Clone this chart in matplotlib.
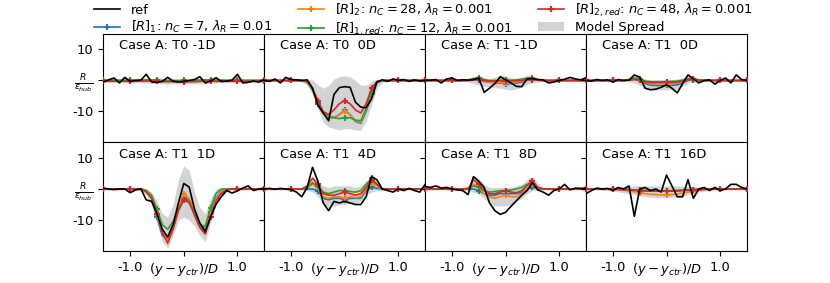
"""
Wake profiles R/eps_hub vs (y - y_ctr)/D for case A: reference data,
four reduced models and the spread of the model ensemble.
"""

import matplotlib
matplotlib.use("Agg")
import matplotlib.pyplot as plt
from matplotlib.lines import Line2D
from matplotlib.patches import Patch
import numpy as np

# ---- data -----------------------------------------------------------------
x = [-1.5, -1.4, -1.3, -1.2, -1.1, -1.0, -0.9, -0.8, -0.7, -0.6, -0.5,
     -0.4, -0.3, -0.2, -0.1, 0.0, 0.1, 0.2, 0.3, 0.4, 0.5,
     0.6, 0.7, 0.8, 0.9, 1.0, 1.1, 1.2, 1.3, 1.4, 1.5]

titles = ["Case A: T0 -1D", "Case A: T0  0D", "Case A: T1 -1D", "Case A: T1  0D",
          "Case A: T1  1D", "Case A: T1  4D", "Case A: T1  8D", "Case A: T1  16D"]

# T0 -1D
ref_0 = [-0.5, 0.2, 0.8, -0.8, 1.0, -0.3, 0.0, 0.1, 2.0, -0.5, -0.6, -0.3, 1.0, -0.2, -0.5, -0.3,
         0.0, 0.3, 1.2, -0.8, -0.2, 0.9, -0.3, -0.2, 0.1, 2.0, -0.8, -0.6, -0.2, -0.5, 0.3]
r1_0 = [0.0, 0.0, 0.0, 0.0, 0.0, 0.0, 0.0, 0.0, 0.1, 0.1, 0.0, -0.1, -0.1, -0.1, -0.1, -0.1,
        -0.1, -0.1, 0.0, 0.0, 0.1, 0.0, 0.0, 0.0, 0.0, 0.0, 0.0, 0.0, 0.0, 0.0, 0.0]
r2_0 = [0.0, 0.0, 0.0, 0.0, 0.0, 0.0, 0.0, 0.1, 0.2, 0.1, 0.0, -0.2, -0.2, -0.2, -0.2, -0.2,
        -0.2, -0.1, 0.0, 0.1, 0.1, 0.0, 0.0, 0.0, 0.0, 0.0, 0.0, 0.0, 0.0, 0.0, 0.0]
r1r_0 = [0.0, 0.0, 0.0, 0.0, 0.0, 0.0, 0.1, 0.1, 0.2, 0.2, 0.1, 0.0, 0.0, 0.0, 0.0, 0.0,
         0.0, 0.0, 0.1, 0.2, 0.2, 0.1, 0.0, 0.0, 0.0, 0.0, 0.0, 0.0, 0.0, 0.0, 0.0]
r2r_0 = [-0.3, -0.3, -0.3, -0.3, -0.3, -0.3, -0.3, -0.2, -0.2, -0.2, -0.3, -0.4, -0.4, -0.4, -0.4, -0.4,
         -0.4, -0.4, -0.3, -0.2, -0.2, -0.3, -0.3, -0.3, -0.3, -0.3, -0.3, -0.3, -0.3, -0.3, -0.3]
lo_0 = [-0.4, -0.4, -0.4, -0.4, -0.5, -0.5, -0.6, -0.7, -0.8, -0.9, -1.0, -1.1, -1.1, -1.1, -1.1, -1.1,
        -1.1, -1.1, -1.0, -0.9, -0.8, -0.7, -0.6, -0.5, -0.5, -0.4, -0.4, -0.4, -0.4, -0.4, -0.4]
hi_0 = [0.2, 0.2, 0.2, 0.2, 0.3, 0.3, 0.4, 0.5, 0.6, 0.6, 0.5, 0.4, 0.4, 0.4, 0.4, 0.4,
        0.4, 0.4, 0.5, 0.6, 0.6, 0.5, 0.4, 0.3, 0.3, 0.2, 0.2, 0.2, 0.2, 0.2, 0.2]

# T0 0D
ref_1 = [0.0, -0.3, 0.5, -0.8, 1.0, 0.3, 0.2, 0.0, 0.2, -2.5, -8.0, -10.5, -13.0, -4.5, -2.3, -2.0,
         -2.2, -7.0, -8.6, -8.8, -6.0, -0.5, 0.2, -0.3, 0.5, 0.0, 0.3, -0.3, 0.2, -0.2, 0.0]
r1_1 = [0.0, 0.0, 0.0, 0.0, 0.0, 0.0, 0.0, 0.0, -0.5, -3.0, -7.5, -10.5, -11.5, -12.0, -11.0, -9.5,
        -11.0, -13.2, -13.8, -10.0, -4.5, -0.8, 0.0, 0.0, 0.0, 0.0, 0.0, 0.0, 0.0, 0.0, 0.0]
r2_1 = [0.0, 0.0, 0.0, 0.0, 0.0, 0.0, 0.0, 0.0, -0.5, -3.0, -7.0, -10.5, -11.5, -12.0, -11.0, -10.0,
        -11.0, -13.0, -13.5, -9.5, -4.0, -0.5, 0.0, 0.0, 0.0, 0.0, 0.0, 0.0, 0.0, 0.0, 0.0]
r1r_1 = [0.0, 0.0, 0.0, 0.0, 0.0, 0.0, 0.0, 0.0, -0.5, -3.0, -7.0, -10.5, -12.0, -12.0, -12.3, -12.0,
         -12.0, -12.8, -13.0, -9.0, -4.0, -0.5, 0.0, 0.0, 0.0, 0.0, 0.0, 0.0, 0.0, 0.0, 0.0]
r2r_1 = [0.0, 0.0, 0.0, 0.0, 0.0, 0.0, 0.0, 0.0, -0.3, -2.5, -6.5, -10.0, -11.0, -9.5, -7.5, -6.5,
         -7.5, -9.5, -10.5, -7.5, -2.5, -0.3, 0.0, 0.0, 0.0, 0.0, 0.0, 0.0, 0.0, 0.0, 0.0]
lo_1 = [-0.3, -0.3, -0.3, -0.3, -0.3, -0.3, -0.3, -0.5, -1.5, -4.5, -9.0, -13.5, -15.0, -15.5, -16.0, -15.5,
        -15.5, -16.0, -16.0, -13.0, -8.0, -2.5, -0.6, -0.3, -0.3, -0.3, -0.3, -0.3, -0.3, -0.3, -0.3]
hi_1 = [0.3, 0.3, 0.3, 0.3, 0.3, 0.3, 0.3, 0.4, 0.4, 0.2, -1.5, -2.5, -1.5, 0.5, 1.2, 1.5,
        1.2, 0.0, -1.5, -1.5, -0.3, 0.4, 0.4, 0.3, 0.3, 0.3, 0.3, 0.3, 0.3, 0.3, 0.3]

# T1 -1D
ref_2 = [0.0, 0.1, 0.3, -0.8, 0.5, 0.8, 0.0, 0.2, 0.1, 0.3, 0.8, -3.8, -2.5, -1.0, 1.2, 0.2,
         -0.8, -1.9, -2.0, 0.5, 0.6, 0.3, 0.2, -0.8, -0.5, 0.0, 0.4, 1.0, 0.5, 0.2, 0.9]
r1_2 = [0.0, 0.0, 0.0, 0.0, 0.0, 0.0, 0.0, 0.0, 0.0, 0.1, 0.3, -0.3, -0.6, -0.8, -0.8, -1.0,
        -1.0, -0.8, -0.6, 0.0, 0.2, 0.1, 0.0, 0.0, 0.0, 0.0, 0.0, 0.0, 0.0, 0.0, 0.0]
r2_2 = [0.0, 0.0, 0.0, 0.0, 0.0, 0.0, 0.0, 0.0, 0.1, 0.3, 0.5, -0.1, -0.5, -0.6, -0.6, -0.8,
        -0.8, -0.5, -0.3, 0.2, 0.4, 0.1, 0.0, 0.0, 0.0, 0.0, 0.0, 0.0, 0.0, 0.0, 0.0]
r1r_2 = [0.0, 0.0, 0.0, 0.0, 0.0, 0.0, 0.0, 0.0, 0.2, 0.6, 0.9, 0.3, 0.0, 0.0, 0.1, 0.1,
         0.1, 0.2, 0.4, 0.8, 0.9, 0.3, 0.0, 0.0, 0.0, 0.0, 0.0, 0.0, 0.0, 0.0, 0.0]
r2r_2 = [0.0, 0.0, 0.0, 0.0, 0.0, 0.0, 0.0, 0.0, 0.0, 0.2, 0.4, 0.0, -0.2, -0.2, -0.1, -0.2,
         -0.2, -0.1, 0.0, 0.3, 0.4, 0.1, 0.0, 0.0, 0.0, 0.0, 0.0, 0.0, 0.0, 0.0, 0.0]
lo_2 = [-0.3, -0.3, -0.3, -0.3, -0.3, -0.3, -0.3, -0.3, -0.5, -1.0, -1.5, -2.0, -2.0, -2.3, -2.5, -2.8,
        -3.0, -2.8, -2.2, -1.2, -0.8, -0.5, -0.3, -0.3, -0.3, -0.3, -0.3, -0.3, -0.3, -0.3, -0.3]
hi_2 = [0.3, 0.3, 0.3, 0.3, 0.3, 0.3, 0.3, 0.3, 0.6, 1.3, 1.6, 0.8, 0.5, 1.0, 1.8, 1.5,
        0.8, 0.6, 1.0, 1.6, 1.5, 0.6, 0.3, 0.3, 0.3, 0.3, 0.3, 0.3, 0.3, 0.3, 0.3]

# T1 0D
ref_3 = [0.0, -0.2, 0.3, 0.0, 0.2, -0.5, 0.3, 0.0, 0.1, 1.8, 1.0, -2.5, -3.0, -2.8, -2.2, -1.4,
         -2.5, -4.0, -1.0, 1.8, 0.5, -0.8, 0.0, 0.2, -1.2, 0.0, 0.8, -0.8, 1.8, 0.3, 0.0]
r1_3 = [0.0, 0.0, 0.0, 0.0, 0.0, 0.0, 0.0, 0.0, 0.1, 0.3, 0.0, -1.0, -1.5, -1.6, -1.6, -1.6,
        -1.6, -1.4, -0.8, 0.0, 0.2, 0.0, 0.0, 0.0, 0.0, 0.0, 0.0, 0.0, 0.0, 0.0, 0.0]
r2_3 = [0.0, 0.0, 0.0, 0.0, 0.0, 0.0, 0.0, 0.0, 0.2, 0.5, 0.2, -0.6, -1.0, -1.0, -1.0, -1.0,
        -1.0, -0.8, -0.4, 0.3, 0.4, 0.1, 0.0, 0.0, 0.0, 0.0, 0.0, 0.0, 0.0, 0.0, 0.0]
r1r_3 = [0.0, 0.0, 0.0, 0.0, 0.0, 0.0, 0.0, 0.0, 0.3, 0.8, 0.5, -0.2, -0.4, -0.4, -0.4, -0.4,
         -0.3, -0.2, 0.1, 0.6, 0.6, 0.2, 0.0, 0.0, 0.0, 0.0, 0.0, 0.0, 0.0, 0.0, 0.0]
r2r_3 = [0.0, 0.0, 0.0, 0.0, 0.0, 0.0, 0.0, 0.0, 0.1, 0.4, 0.2, -0.4, -0.6, -0.6, -0.6, -0.6,
         -0.6, -0.5, -0.2, 0.3, 0.4, 0.1, 0.0, 0.0, 0.0, 0.0, 0.0, 0.0, 0.0, 0.0, 0.0]
lo_3 = [-0.3, -0.3, -0.3, -0.3, -0.3, -0.3, -0.3, -0.3, -0.5, -0.8, -1.5, -2.5, -3.0, -3.0, -3.0, -3.0,
        -3.0, -2.8, -2.0, -0.8, -0.5, -0.4, -0.3, -0.3, -0.3, -0.3, -0.3, -0.3, -0.3, -0.3, -0.3]
hi_3 = [0.3, 0.3, 0.3, 0.3, 0.3, 0.3, 0.3, 0.3, 0.8, 1.8, 1.2, 0.5, 0.2, 0.2, 0.3, 0.3,
        0.3, 0.5, 0.8, 1.6, 1.2, 0.5, 0.3, 0.3, 0.3, 0.3, 0.3, 0.3, 0.3, 0.3, 0.3]

# T1 1D
ref_4 = [0.3, 0.0, -0.2, 0.0, 0.0, -1.2, -0.3, 0.0, -3.5, -4.0, -8.0, -13.0, -15.5, -11.5, -4.5, 1.8,
         0.6, -6.5, -11.0, -13.8, -9.0, -5.0, -2.5, -0.5, -1.3, -0.6, 0.3, 1.0, -0.5, 0.0, 0.3]
r1_4 = [0.0, 0.0, 0.0, 0.0, 0.0, 0.0, 0.0, 0.0, -0.5, -3.0, -9.0, -15.0, -16.0, -12.5, -6.5, -3.0,
        -3.5, -7.5, -11.5, -13.0, -7.5, -3.0, -0.8, 0.0, 0.0, 0.0, 0.0, 0.0, 0.0, 0.0, 0.0]
r2_4 = [0.0, 0.0, 0.0, 0.0, 0.0, 0.0, 0.0, 0.0, -0.5, -3.0, -8.5, -14.0, -16.5, -12.5, -6.0, -1.5,
        -3.0, -7.5, -12.0, -13.5, -8.0, -3.5, -1.0, 0.0, 0.0, 0.0, 0.0, 0.0, 0.0, 0.0, 0.0]
r1r_4 = [0.0, 0.0, 0.0, 0.0, 0.0, 0.0, 0.0, 0.0, -0.5, -2.0, -6.5, -11.5, -13.0, -10.5, -6.5, -3.5,
         -4.5, -8.0, -11.5, -12.0, -6.0, -1.5, 0.0, 0.0, 0.0, 0.0, 0.0, 0.0, 0.0, 0.0, 0.0]
r2r_4 = [0.0, 0.0, 0.0, 0.0, 0.0, 0.0, 0.0, 0.0, -1.0, -3.0, -8.0, -14.0, -17.5, -13.0, -7.0, -3.5,
         -4.0, -8.5, -12.5, -14.5, -9.0, -4.0, -1.5, -0.3, 0.0, 0.0, 0.0, 0.0, 0.0, 0.0, 0.0]
lo_4 = [-0.3, -0.3, -0.3, -0.3, -0.3, -0.3, -0.3, -0.5, -2.0, -5.0, -11.0, -17.0, -19.0, -15.0, -10.0, -9.0,
        -10.0, -12.0, -15.0, -17.0, -11.0, -5.0, -2.0, -0.5, -0.3, -0.3, -0.3, -0.3, -0.3, -0.3, -0.3]
hi_4 = [0.3, 0.3, 0.3, 0.3, 0.3, 0.3, 0.3, 0.3, 0.0, -1.0, -4.0, -8.0, -9.0, -5.0, 3.0, 7.5,
        6.0, -1.0, -6.0, -8.0, -3.0, 0.0, 0.5, 0.3, 0.3, 0.3, 0.3, 0.3, 0.3, 0.3, 0.3]

# T1 4D
ref_5 = [0.0, 0.2, -0.1, 0.2, 0.0, -0.2, -1.0, -2.5, 0.5, 7.0, 2.5, -4.5, -7.0, -4.0, -4.5, -4.0,
         -4.5, -5.0, -5.0, -2.5, 4.0, 3.0, 0.0, -0.5, -1.0, 0.0, -0.5, 0.2, -0.5, -1.0, 1.5]
r1_5 = [0.0, 0.0, 0.0, 0.0, 0.0, 0.0, 0.0, 0.0, 0.0, 0.0, -0.5, -3.0, -3.5, -3.0, -3.0, -3.5,
        -3.0, -3.0, -3.0, -0.5, 0.5, 0.2, 0.0, 0.0, 0.0, 0.0, 0.0, 0.0, 0.0, 0.0, 0.0]
r2_5 = [0.0, 0.0, 0.0, 0.0, 0.0, 0.0, 0.0, 0.0, 0.5, 1.5, 0.5, -2.5, -3.0, -2.5, -2.5, -3.0,
        -2.5, -2.8, -2.5, 0.0, 2.0, 1.0, 0.0, 0.0, 0.0, 0.0, 0.0, 0.0, 0.0, 0.0, 0.0]
r1r_5 = [0.0, 0.0, 0.0, 0.0, 0.0, 0.0, 0.0, 0.0, 0.5, 2.0, 1.0, -1.0, -1.5, -1.0, -0.5, -0.5,
         -0.8, -1.0, -0.5, 1.5, 3.5, 1.5, 0.0, 0.0, 0.0, 0.0, 0.0, 0.0, 0.0, 0.0, 0.0]
r2r_5 = [0.0, 0.0, 0.0, 0.0, 0.0, 0.0, 0.0, 0.0, 1.0, 3.5, 1.5, -1.5, -2.0, -2.0, -1.5, -1.0,
         -1.5, -2.0, -1.5, 0.5, 3.0, 1.5, 0.0, 0.0, 0.0, 0.0, 0.0, 0.0, 0.0, 0.0, 0.0]
lo_5 = [-0.3, -0.3, -0.3, -0.3, -0.3, -0.3, -0.3, -0.3, -0.5, -1.0, -2.5, -5.0, -6.0, -5.5, -5.0, -5.0,
        -4.5, -4.5, -4.0, -2.0, -1.0, -0.5, -0.5, -0.3, -0.3, -0.3, -0.3, -0.3, -0.3, -0.3, -0.3]
hi_5 = [0.3, 0.3, 0.3, 0.3, 0.3, 0.3, 0.3, 0.3, 1.0, 4.0, 2.5, 1.0, 0.5, 1.0, 1.0, 1.0,
        1.0, 0.5, 1.0, 2.5, 4.0, 2.5, 0.5, 0.3, 0.3, 0.3, 0.3, 0.3, 0.3, 0.3, 0.3]

# T1 8D
ref_6 = [0.8, 0.5, 1.0, 0.3, 0.5, 0.0, -0.3, -0.5, -1.8, 4.0, 2.5, 0.5, -4.5, -7.0, -8.2, -7.5,
         -5.6, -3.8, -2.0, -0.5, 2.0, -0.3, -1.0, -2.0, -0.5, 0.0, 1.5, -0.3, 0.3, 0.2, 0.3]
r1_6 = [0.0, 0.0, 0.0, 0.0, 0.0, 0.0, 0.0, 0.0, 0.0, 0.0, -0.5, -1.5, -2.0, -2.0, -1.5, -1.5,
        -1.5, -1.5, -1.0, 0.0, 0.5, 0.2, 0.0, 0.0, 0.0, 0.0, 0.0, 0.0, 0.0, 0.0, 0.0]
r2_6 = [0.0, 0.0, 0.0, 0.0, 0.0, 0.0, 0.0, 0.0, 0.3, 1.5, 0.5, -1.5, -2.5, -3.0, -2.5, -2.0,
        -2.5, -2.5, -1.5, 0.0, 1.5, 0.5, 0.0, 0.0, 0.0, 0.0, 0.0, 0.0, 0.0, 0.0, 0.0]
r1r_6 = [0.0, 0.0, 0.0, 0.0, 0.0, 0.0, 0.0, 0.0, 0.2, 1.0, 0.5, -0.5, -1.0, -0.8, -0.5, -0.5,
         -0.3, 0.0, 0.5, 1.5, 2.5, 0.5, 0.0, 0.0, 0.0, 0.0, 0.0, 0.0, 0.0, 0.0, 0.0]
r2r_6 = [0.0, 0.0, 0.0, 0.0, 0.0, 0.0, 0.0, 0.0, 0.0, 3.0, 1.5, -0.5, -1.5, -1.5, -1.0, -0.5,
         -1.0, -1.2, -0.5, 1.0, 2.5, 0.5, 0.0, 0.0, 0.0, 0.0, 0.0, 0.0, 0.0, 0.0, 0.0]
lo_6 = [-0.3, -0.3, -0.3, -0.3, -0.3, -0.3, -0.3, -0.3, -0.5, -1.0, -1.5, -3.0, -4.5, -5.5, -5.5, -5.5,
        -5.0, -4.0, -3.0, -1.5, -0.5, -0.5, -0.3, -0.3, -0.3, -0.3, -0.3, -0.3, -0.3, -0.3, -0.3]
hi_6 = [0.3, 0.3, 0.3, 0.3, 0.3, 0.3, 0.3, 0.3, 0.5, 4.5, 3.0, 1.5, 0.5, 0.5, 0.5, 0.5,
        0.5, 1.0, 1.5, 3.0, 4.0, 2.0, 0.5, 0.3, 0.3, 0.3, 0.3, 0.3, 0.3, 0.3, 0.3]

# T1 16D
ref_7 = [-1.5, -0.5, 0.3, 0.0, 0.2, -0.5, 0.5, 0.0, 1.0, -8.8, 0.0, 0.5, -0.5, 0.0, -1.0, 4.5,
         1.0, -2.5, -2.5, 3.0, -3.0, 0.0, 0.5, -0.5, 0.5, -0.5, 0.0, 1.5, 1.5, 0.5, 0.0]
r1_7 = [0.0, 0.0, 0.0, 0.0, 0.0, 0.0, 0.0, -0.1, -0.2, -0.3, -0.4, -0.5, -0.6, -0.6, -0.6, -0.6,
        -0.6, -0.5, -0.4, -0.3, -0.2, -0.1, 0.0, 0.0, 0.0, 0.0, 0.0, 0.0, 0.0, 0.0, 0.0]
r2_7 = [0.0, 0.0, 0.0, 0.0, 0.0, -0.1, -0.2, -0.4, -0.6, -0.9, -1.2, -1.5, -1.7, -1.8, -1.9, -1.9,
        -1.8, -1.6, -1.3, -1.0, -0.7, -0.4, -0.2, -0.1, 0.0, 0.0, 0.0, 0.0, 0.0, 0.0, 0.0]
r1r_7 = [0.0, 0.0, 0.0, 0.0, 0.0, 0.0, -0.1, -0.1, -0.2, -0.3, -0.4, -0.5, -0.5, -0.6, -0.6, -0.6,
         -0.5, -0.5, -0.4, -0.3, -0.2, -0.1, -0.1, 0.0, 0.0, 0.0, 0.0, 0.0, 0.0, 0.0, 0.0]
r2r_7 = [0.0, 0.0, 0.0, 0.0, 0.0, -0.1, -0.1, -0.2, -0.3, -0.4, -0.5, -0.6, -0.7, -0.7, -0.7, -0.7,
         -0.7, -0.6, -0.5, -0.4, -0.3, -0.2, -0.1, 0.0, 0.0, 0.0, 0.0, 0.0, 0.0, 0.0, 0.0]
lo_7 = [-0.3, -0.3, -0.3, -0.4, -0.5, -0.7, -0.9, -1.2, -1.5, -1.8, -2.1, -2.4, -2.6, -2.7, -2.8, -2.8,
        -2.7, -2.5, -2.2, -1.8, -1.4, -1.0, -0.7, -0.5, -0.4, -0.3, -0.3, -0.3, -0.3, -0.3, -0.3]
hi_7 = [0.3, 0.3, 0.3, 0.4, 0.5, 0.6, 0.7, 0.8, 0.9, 1.0, 1.0, 1.0, 1.0, 1.0, 1.0, 1.0,
        1.0, 1.0, 0.9, 0.8, 0.7, 0.6, 0.5, 0.4, 0.3, 0.3, 0.3, 0.3, 0.3, 0.3, 0.3]

refs = [ref_0, ref_1, ref_2, ref_3, ref_4, ref_5, ref_6, ref_7]
r1s = [r1_0, r1_1, r1_2, r1_3, r1_4, r1_5, r1_6, r1_7]
r2s = [r2_0, r2_1, r2_2, r2_3, r2_4, r2_5, r2_6, r2_7]
r1rs = [r1r_0, r1r_1, r1r_2, r1r_3, r1r_4, r1r_5, r1r_6, r1r_7]
r2rs = [r2r_0, r2r_1, r2r_2, r2r_3, r2r_4, r2r_5, r2r_6, r2r_7]
los = [lo_0, lo_1, lo_2, lo_3, lo_4, lo_5, lo_6, lo_7]
his = [hi_0, hi_1, hi_2, hi_3, hi_4, hi_5, hi_6, hi_7]

labels = [
    "ref",
    r"$[R]_1$: $n_C=7$, $\lambda_R=0.01$",
    r"$[R]_2$: $n_C=28$, $\lambda_R=0.001$",
    r"$[R]_{1,red}$: $n_C=12$, $\lambda_R=0.001$",
    r"$[R]_{2,red}$: $n_C=48$, $\lambda_R=0.001$",
    "Model Spread",
]
colors = ["#1f77b4", "#ff7f0e", "#2ca02c", "#d62728"]

plt.rcParams["font.size"] = 9.4

fig, axes = plt.subplots(2, 4, figsize=(8.3, 2.83), dpi=100, sharex=True, sharey=True)
fig.subplots_adjust(left=0.1245, right=0.9, top=0.88, bottom=0.113, wspace=0, hspace=0)

xs = np.array(x)
for k, ax in enumerate(axes.flat):
    ax.fill_between(xs, los[k], his[k], color="lightgray", lw=0, zorder=1)
    for j, series in enumerate([r1s, r2s, r1rs, r2rs]):
        ax.plot(xs, series[k], color=colors[j], lw=1.2, marker="+", ms=4, mew=1.5,
                markevery=5, zorder=2 + j)
    ax.plot(xs, refs[k], color="black", lw=1.2, zorder=10)
    ax.text(0.1, 0.89, titles[k], transform=ax.transAxes, va="center", ha="left")

    ax.set_xlim(-1.5, 1.5)
    ax.set_ylim(-20, 15)
    ax.set_xticks([-1.0, 0.0, 1.0])
    ax.set_yticks([10, 0, -10])
    if k % 4 == 0:
        ax.set_yticklabels(["10", r"$\frac{R}{\epsilon_{hub}}$", "-10"])
    if k >= 4:
        ax.set_xticklabels(["-1.0", r"$(y-y_{ctr})/D$", "1.0"])

handles = [Line2D([], [], color="black", lw=1.2)]
for c in colors:
    handles.append(Line2D([], [], color=c, lw=1.2, marker="+", ms=4, mew=1.5))
handles.append(Patch(facecolor="lightgray", edgecolor="none"))
fig.legend(handles, labels, ncol=3, loc="upper center", bbox_to_anchor=(0.51, 1.037),
           frameon=False, labelspacing=0.2)

fig.savefig("out.png", dpi=100)
